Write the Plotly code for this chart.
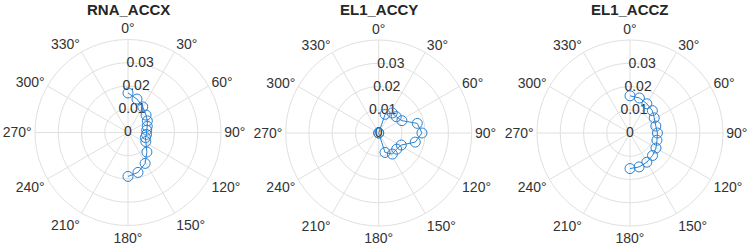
import plotly.graph_objects as go

titles = ["RNA_ACCX", "EL1_ACCY", "EL1_ACCZ"]

theta_x = [0, 15, 30, 46, 59, 72, 83, 96, 106, 117, 136, 151, 166, 180]
r_x = [0.0170, 0.0149, 0.0127, 0.0108, 0.0097, 0.0087, 0.0081, 0.0080, 0.0078, 0.0086, 0.0117, 0.0152, 0.0177, 0.0189]

theta_y = [0, 19, 34, 47, 62, 76, 90, 104, 118, 132, 147, 162, 180]
r_y = [0.0, 0.0085, 0.0104, 0.0103, 0.0113, 0.0171, 0.0186, 0.0162, 0.0110, 0.0104, 0.0108, 0.0088, 0.0]

theta_z = [0, 15, 30, 45, 58, 75, 90, 105, 120, 135, 150, 165, 180]
r_z = [0.0160, 0.0156, 0.0145, 0.0136, 0.0123, 0.0115, 0.0118, 0.0120, 0.0129, 0.0137, 0.0145, 0.0151, 0.0153]

r_ticks = [0, 0.01, 0.02, 0.03]
r_ticktext = ["0", "0.01", "0.02", "0.03"]
r_label_theta = 10
r_max = 0.04

series = [(theta_x, r_x), (theta_y, r_y), (theta_z, r_z)]

W, H = 750, 246
R = 93
centers = [(128, 132.5), (378.7, 133), (630, 133)]

fig = go.Figure()
blue = "#2a82d0"
txt = "#333333"
grid = "#e0e0e0"

layout = dict(
    width=W, height=H, margin=dict(l=0, r=0, t=0, b=0),
    paper_bgcolor="white", plot_bgcolor="white", showlegend=False,
    font=dict(family="Liberation Sans, Arial, sans-serif", size=14, color=txt),
)
annotations = []
for i, ((th, rr), (cx, cy), title) in enumerate(zip(series, centers, titles)):
    key = "polar" if i == 0 else f"polar{i+1}"
    fig.add_trace(go.Scatterpolar(
        theta=[r_label_theta] * len(r_ticks), r=r_ticks, text=r_ticktext,
        mode="text", textposition="middle center", subplot=key,
        textfont=dict(size=14, color=txt), hoverinfo="skip",
    ))
    fig.add_trace(go.Scatterpolar(
        theta=th, r=rr, mode="lines+markers", subplot=key,
        line=dict(color=blue, width=1),
        marker=dict(symbol="circle-open", size=10, color=blue, line=dict(width=1, color=blue)),
    ))
    layout[key] = dict(
        domain=dict(x=[(cx - R) / W, (cx + R) / W], y=[(H - cy - R) / H, (H - cy + R) / H]),
        bgcolor="white",
        angularaxis=dict(
            rotation=90, direction="clockwise", dtick=30, ticksuffix="°",
            showline=True, linecolor=grid, linewidth=1,
            gridcolor=grid, ticks="", tickfont=dict(size=14, color=txt),
        ),
        radialaxis=dict(
            range=[0, r_max], tickvals=r_ticks, showticklabels=False,
            showline=False, ticks="", gridcolor=grid,
        ),
    )
    annotations.append(dict(
        text=f"<b>{title}</b>", x=cx / W, y=1, xref="paper", yref="paper",
        xanchor="center", yanchor="top", showarrow=False,
        font=dict(size=15, color="#262626"), borderpad=0,
    ))
layout["annotations"] = annotations
fig.update_layout(**layout)
fig.write_html("out.html")
